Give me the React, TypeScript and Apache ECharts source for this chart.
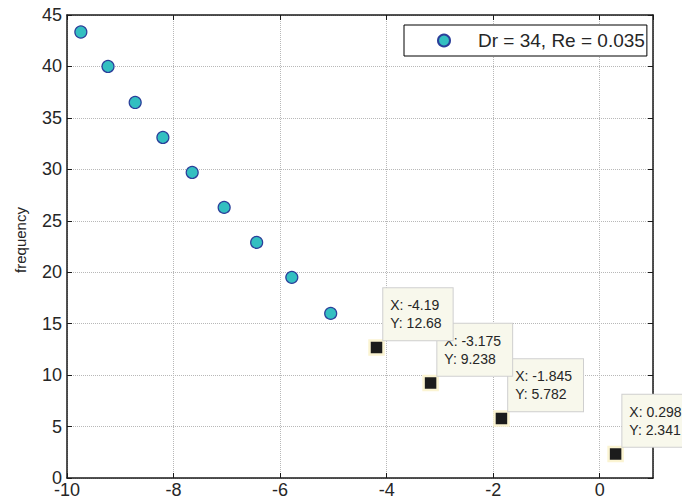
import React, { useEffect, useRef } from "react";
import * as echarts from "echarts";

// Measured spectrum points (circles)
const circleX = [-9.74, -9.23, -8.72, -8.2, -7.65, -7.05, -6.44, -5.78, -5.05];
const circleY = [43.35, 40.0, 36.5, 33.1, 29.7, 26.3, 22.9, 19.5, 16.0];

// Highlighted points with data tips (squares)
const tipX = [-4.19, -3.175, -1.845, 0.298];
const tipY = [12.68, 9.238, 5.782, 2.341];

const seriesName = "Dr = 34, Re = 0.035";
const yAxisName = "frequency";

const FONT = "'Liberation Sans', Arial, Helvetica, sans-serif";
const TEXT = "#262626";

export default function App() {
  const ref = useRef<HTMLDivElement>(null);

  useEffect(() => {
    if (!ref.current) return;
    const chart = echarts.init(ref.current, null, { renderer: "svg" });

    const circles = circleX.map((x, i) => [x, circleY[i]]);
    // drawn last-to-first so earlier tips sit on top of later ones
    const tips = tipX.map((x, i) => [x, tipY[i]]).reverse();

    const splitLine = { show: true, lineStyle: { color: "#b8b8b8", type: "dotted" as const, width: 1 } };
    const axisLine = { show: true, onZero: false, lineStyle: { color: "#1a1a1a", width: 1.5 } };
    const axisTick = { show: true, inside: true, length: 5, lineStyle: { color: "#1a1a1a", width: 1 } };

    chart.setOption({
      animation: false,
      textStyle: { fontFamily: FONT },
      grid: { left: 67, right: 29, top: 15, bottom: 22, containLabel: false },
      legend: {
        data: [seriesName],
        left: 404,
        top: 25,
        orient: "horizontal",
        icon: "circle",
        itemWidth: 12,
        itemHeight: 12,
        padding: [6, 2, 6, 33],
        backgroundColor: "#ffffff",
        borderColor: "#000000",
        borderWidth: 1,
        borderRadius: 0,
        textStyle: { fontSize: 19, color: TEXT, fontFamily: FONT, padding: [0, 0, 0, 23] },
      },
      xAxis: [
        {
          type: "value",
          min: -10,
          max: 1,
          interval: 2,
          axisLine,
          axisTick,
          splitLine,
          axisLabel: {
            fontSize: 18,
            color: TEXT,
            fontFamily: FONT,
            margin: 3,
            showMaxLabel: false,
            formatter: (v: number) => (v === 1 ? "" : String(v)),
          },
        },
        {
          type: "value",
          position: "top",
          min: -10,
          max: 1,
          interval: 2,
          axisLine,
          axisTick,
          splitLine: { show: false },
          axisLabel: { show: false },
        },
      ],
      yAxis: [
        {
          type: "value",
          min: 0,
          max: 45,
          interval: 5,
          name: yAxisName,
          nameLocation: "middle",
          nameGap: 39,
          nameTextStyle: { fontSize: 15, color: TEXT, fontFamily: FONT, padding: [0, 0, 0, 13] },
          axisLine,
          axisTick,
          splitLine,
          axisLabel: { fontSize: 18, color: TEXT, fontFamily: FONT, margin: 5 },
        },
        {
          type: "value",
          position: "right",
          min: 0,
          max: 45,
          interval: 5,
          axisLine,
          axisTick,
          splitLine: { show: false },
          axisLabel: { show: false },
        },
      ],
      series: [
        {
          name: seriesName,
          type: "scatter",
          data: circles,
          symbol: "circle",
          symbolSize: 12,
          itemStyle: { color: "#33bfc1", borderColor: "#2b3f9a", borderWidth: 1.2, opacity: 1 },
          z: 3,
        },
        {
          name: "tips",
          type: "scatter",
          data: tips,
          symbol: "rect",
          symbolSize: 14,
          itemStyle: { color: "#1c1c1c", borderColor: "#fbf4d2", borderWidth: 2.5, opacity: 1 },
          z: 4,
          label: {
            show: true,
            position: [15, -51],
            align: "left",
            verticalAlign: "top",
            formatter: (p: any) => `X: ${p.value[0]}\nY: ${p.value[1]}`,
            fontSize: 14,
            lineHeight: 18,
            color: TEXT,
            fontFamily: FONT,
            backgroundColor: "#f8f8ec",
            borderColor: "#cfcfcf",
            borderWidth: 1,
            padding: [8, 11, 8, 7],
          },
        },
      ],
    });

    return () => chart.dispose();
  }, []);

  return (
    <div
      ref={ref}
      style={{ position: "fixed", left: 0, top: 0, width: 682, height: 500, background: "#ffffff" }}
    />
  );
}
